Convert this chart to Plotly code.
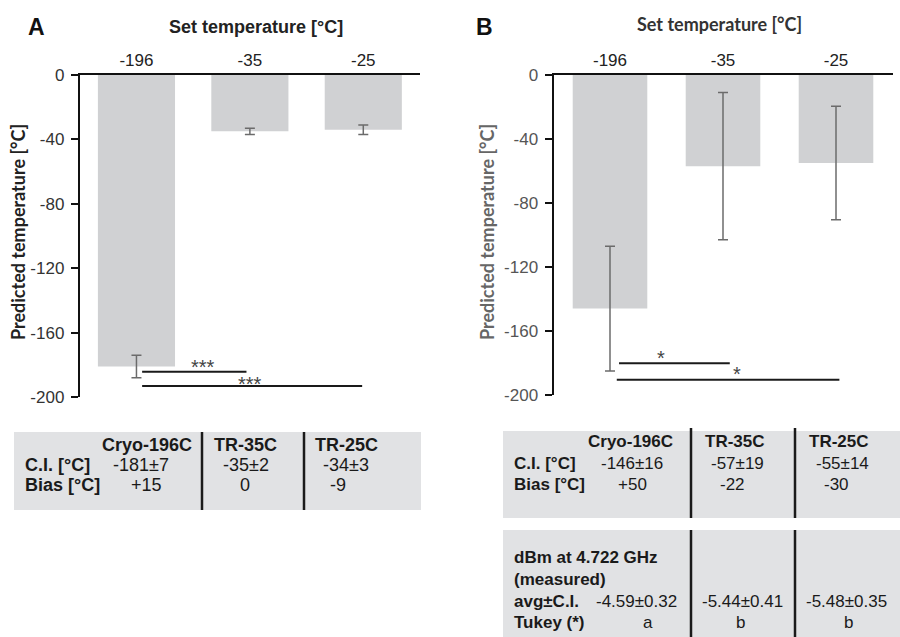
import plotly.graph_objects as go

# ---------------- data ----------------
set_temps = ["-196", "-35", "-25"]
groups = ["Cryo-196C", "TR-35C", "TR-25C"]

y_ticks = [0, -40, -80, -120, -160, -200]
y_tick_text = ["0", "-40", "-80", "-120", "-160", "-200"]

pred_A = [-181, -35, -34]
err_A = [7, 2, 3]
pred_B = [-146, -57, -55]
err_B = [39, 46, 35.5]

ci_A = ["-181±7", "-35±2", "-34±3"]
bias_A = ["+15", "0", "-9"]
ci_B = ["-146±16", "-57±19", "-55±14"]
bias_B = ["+50", "-22", "-30"]
dbm_B = ["-4.59±0.32", "-5.44±0.41", "-5.48±0.35"]
tukey_B = ["a", "b", "b"]

# significance comparisons: (x_start, x_end, y_level, label, label_x, label_y)
sig_A = [(0.05, 0.97, -184.3, "***", 0.59, -181.6),
         (0.05, 1.99, -193.2, "***", 1.0, -192.0)]
sig_B = [(0.08, 1.06, -180.2, "*", 0.45, -176.6),
         (0.06, 2.03, -190.4, "*", 1.12, -187.0)]

W, H = 900, 637
def P(x):
    return x / W
def Q(y):
    return 1 - y / H

BAR = "#d0d1d3"
TAB = "#e1e2e4"
ERR = "#6b6b6b"
ARIAL = "Liberation Sans, Arial, sans-serif"
CAL = "Lato, Carlito, Calibri, sans-serif"

fig = go.Figure()
xs = [0, 1, 2]
fig.add_trace(go.Bar(x=xs, y=pred_A, width=0.68, marker=dict(color=BAR, line=dict(width=0)),
                     error_y=dict(type="data", array=err_A, visible=True, color=ERR,
                                  thickness=1.5, width=5),
                     xaxis="x", yaxis="y", showlegend=False, hoverinfo="skip"))
fig.add_trace(go.Bar(x=xs, y=pred_B, width=0.66, marker=dict(color=BAR, line=dict(width=0)),
                     error_y=dict(type="data", array=err_B, visible=True, color=ERR,
                                  thickness=1.5, width=5),
                     xaxis="x2", yaxis="y2", showlegend=False, hoverinfo="skip"))

shapes = []
annotations = []

def add_sig(sigs, xr, yr):
    for x0, x1, yv, lab, lx, ly in sigs:
        shapes.append(dict(type="line", xref=xr, yref=yr, x0=x0, x1=x1, y0=yv, y1=yv,
                           line=dict(color="#1a1a1a", width=2)))
        annotations.append(dict(xref=xr, yref=yr, x=lx, y=ly, text=lab, showarrow=False,
                                yanchor="middle",
                                font=dict(family=ARIAL, size=20, color="#444")))

add_sig(sig_A, "x", "y")
add_sig(sig_B, "x2", "y2")

xa_common = dict(range=[-0.5, 2.5], side="top", showline=True, linecolor="#111",
                 linewidth=2, ticks="", tickmode="array", tickvals=xs, ticktext=set_temps,
                 showgrid=False, zeroline=False, automargin=False,
                 tickfont=dict(family=ARIAL, size=17, color="#222"), fixedrange=True)
ya_common = dict(range=[-200, 0], tickmode="array", tickvals=y_ticks, ticktext=y_tick_text,
                 showline=True, linecolor="#111", linewidth=2, ticks="outside", ticklen=7,
                 tickwidth=2, tickcolor="#111", showgrid=False, zeroline=False, automargin=False,
                 ticklabelstandoff=3, fixedrange=True)

fig.update_layout(
    width=W, height=H, margin=dict(l=0, r=0, t=0, b=0, autoexpand=False),
    paper_bgcolor="white", plot_bgcolor="white",
    xaxis=dict(domain=[P(79.75), P(420)], anchor="y", **xa_common),
    yaxis=dict(domain=[Q(397), Q(75)], anchor="x",
               tickfont=dict(family=ARIAL, size=17, color="#333"), **ya_common),
    xaxis2=dict(domain=[P(553.5), P(892.5)], anchor="y2", **xa_common),
    yaxis2=dict(domain=[Q(395), Q(75)], anchor="x2",
                tickfont=dict(family=ARIAL, size=17, color="#555"), **ya_common),
    bargap=0.3,
)

def txt(x, y, s, size=17, bold=False, color="#1a1a1a", family=ARIAL, xanchor="center", angle=0):
    annotations.append(dict(xref="paper", yref="paper", x=P(x), y=Q(y),
                            text=f"<b>{s}</b>" if bold else s, showarrow=False,
                            xanchor=xanchor, yanchor="middle", textangle=angle,
                            font=dict(family=family, size=size, color=color)))

# panel labels and titles
txt(36, 27, "A", size=23, bold=True, color="#111")
txt(484, 27, "B", size=23, bold=True, color="#111")
txt(256, 27, "Set temperature [°C]", size=18, bold=True, color="#222")
txt(719, 24, "Set temperature [°C]", size=18, bold=True, color="#333", family=CAL)
txt(18, 232, "Predicted temperature [°C]", size=18, bold=True, color="#222", family=CAL, angle=-90)
txt(487, 232, "Predicted temperature [°C]", size=18, bold=True, color="#666", family=CAL, angle=-90)

# ---------------- tables ----------------
def rect(x0, x1, y0, y1):
    shapes.append(dict(type="rect", xref="paper", yref="paper", x0=P(x0), x1=P(x1),
                       y0=Q(y1), y1=Q(y0), fillcolor=TAB, line=dict(width=0), layer="below"))
def vline(x, y0, y1):
    shapes.append(dict(type="line", xref="paper", yref="paper", x0=P(x), x1=P(x),
                       y0=Q(y1), y1=Q(y0), line=dict(color="#1a1a1a", width=2.5)))

# Table A
rect(14, 421, 432, 510)
vline(202, 432, 510)
vline(304, 432, 510)
for gx, g in zip([100, 212, 313], groups):
    txt(gx, 445, g, size=18, bold=True, xanchor="left")
txt(23, 465, "C.I. [°C]", size=18, bold=True, xanchor="left")
txt(23, 485, "Bias [°C]", size=18, bold=True, xanchor="left")
for cx, v in zip([141, 246, 346], ci_A):
    txt(cx, 465, v, size=18)
for cx, v in zip([146, 245, 338], bias_A):
    txt(cx, 485, v, size=18)

# Table B1
rect(503, 900, 431, 518)
vline(691, 428, 518)
vline(795, 428, 518)
for gx, g in zip([586, 703, 807], groups):
    txt(gx, 441, g, size=17, bold=True, xanchor="left")
txt(512, 463, "C.I. [°C]", size=17, bold=True, xanchor="left")
txt(512, 484, "Bias [°C]", size=17, bold=True, xanchor="left")
for cx, v in zip([632, 737, 842], ci_B):
    txt(cx, 463, v, size=17)
for cx, v in zip([632, 732, 836], bias_B):
    txt(cx, 484, v, size=17)

# Table B2
rect(503, 900, 530, 637)
vline(691, 530, 637)
vline(795, 530, 637)
txt(512, 557, "dBm at 4.722 GHz", size=17, bold=True, xanchor="left")
txt(512, 579, "(measured)", size=17, bold=True, xanchor="left")
txt(512, 601, "avg±C.I.", size=17, bold=True, xanchor="left")
txt(512, 622, "Tukey (*)", size=17, bold=True, xanchor="left")
for cx, v in zip([636, 742, 846], dbm_B):
    txt(cx, 601, v, size=17)
for cx, v in zip([648, 740, 848], tukey_B):
    txt(cx, 622, v, size=17)

fig.update_layout(shapes=shapes, annotations=annotations)
fig.write_html("out.html")
